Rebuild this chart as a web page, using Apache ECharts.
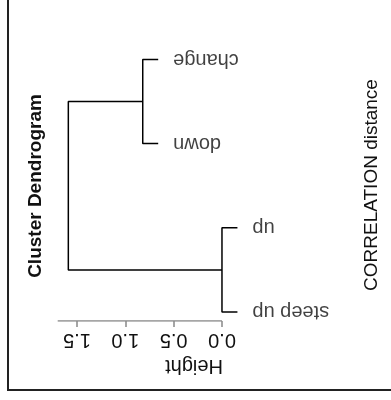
<!DOCTYPE html>
<html>
<head>
<meta charset="utf-8">
<script src="https://cdn.jsdelivr.net/npm/echarts@6/dist/echarts.min.js"></script>
<style>
  html, body { margin: 0; padding: 0; background: #fff; }
  #chart { width: 391px; height: 400px; }
</style>
</head>
<body>
<div id="chart"></div>
<script>
// leaves in plotting order (bottom to top)
const leafLabels = ["steep up", "up", "down", "change"];
const leafOrder = [1, 2, 3, 4];
// where each leaf's hanging line ends
const leafHeight = [-0.16, -0.16, 0.66, 0.66];
// merges, R style: negative = leaf, positive = earlier merge
const mergePairs = [[-1, -2], [-3, -4], [1, 2]];
const mergeHeight = [0.0, 0.82, 1.59];
const heightTicks = [0, 0.5, 1.0, 1.5];
const heightMin = -0.2;
const heightMax = 1.7;
const posMin = 0.893;
const posMax = 4.1;

const FONT = "Liberation Sans";

function nodeOf(idx) {
  if (idx < 0) {
    return { h: leafHeight[-idx - 1], p: leafOrder[-idx - 1] };
  }
  return mergeNodes[idx - 1];
}

const mergeNodes = [];
const segSeries = [];
mergePairs.forEach((pair, k) => {
  const a = nodeOf(pair[0]);
  const b = nodeOf(pair[1]);
  const h = mergeHeight[k];
  mergeNodes.push({ h: h, p: (a.p + b.p) / 2 });
  segSeries.push({
    type: "line",
    data: [[a.h, a.p], [h, a.p], [h, b.p], [b.h, b.p]],
    symbol: "none",
    silent: true,
    lineStyle: { color: "#000", width: 1.5 },
  });
});

const chartOption = {
  animation: false,
  grid: { left: 57.7, right: 149.7, top: 51, bottom: 79 },
  xAxis: {
    type: "value",
    inverse: true,
    min: heightMin,
    max: heightMax,
    splitLine: { show: false },
    axisLine: { show: false },
    axisTick: {
      show: true,
      customValues: heightTicks,
      length: 6,
      lineStyle: { color: "#888", width: 1.5 },
    },
    axisLabel: {
      customValues: heightTicks,
      rotate: 180,
      margin: 9,
      color: "#111",
      fontFamily: FONT,
      fontSize: 20,
      formatter: (v) => v.toFixed(1),
    },
  },
  yAxis: {
    type: "value",
    min: posMin,
    max: posMax,
    show: false,
  },
  series: [
    ...segSeries,
    {
      // axis baseline, only over the labelled range
      type: "line",
      data: [[0, posMin], [heightMax, posMin]],
      symbol: "none",
      silent: true,
      lineStyle: { color: "#888", width: 1.5 },
    },
    {
      type: "scatter",
      symbolSize: 0,
      data: leafLabels.map((name, i) => ({ name: name, value: [leafHeight[i], leafOrder[i]] })),
      label: {
        show: true,
        formatter: "{b}",
        position: "right",
        distance: 15,
        rotate: 180,
        align: "right",
        verticalAlign: "middle",
        color: "#111",
        fontFamily: FONT,
        fontSize: 20,
      },
    },
  ],
  graphic: [
    {
      type: "rect",
      shape: { x: 8, y: -10, width: 400, height: 400 },
      style: { fill: "none", stroke: "#222", lineWidth: 2 },
      silent: true,
    },
    {
      type: "text",
      x: 36,
      y: 186,
      rotation: Math.PI / 2,
      style: {
        text: "Cluster Dendrogram",
        font: "bold 19px " + FONT,
        fill: "#111",
        textAlign: "center",
        textVerticalAlign: "middle",
      },
    },
    {
      type: "text",
      x: 372,
      y: 185,
      rotation: Math.PI / 2,
      style: {
        text: "CORRELATION distance",
        font: "19px " + FONT,
        fill: "#111",
        textAlign: "center",
        textVerticalAlign: "middle",
      },
    },
    {
      type: "text",
      x: 194,
      y: 366,
      rotation: Math.PI,
      style: {
        text: "Height",
        font: "20px " + FONT,
        fill: "#111",
        textAlign: "center",
        textVerticalAlign: "middle",
      },
    },
  ],
};

const myChart = echarts.init(document.getElementById("chart"));
myChart.setOption(chartOption);
</script>
</body>
</html>
